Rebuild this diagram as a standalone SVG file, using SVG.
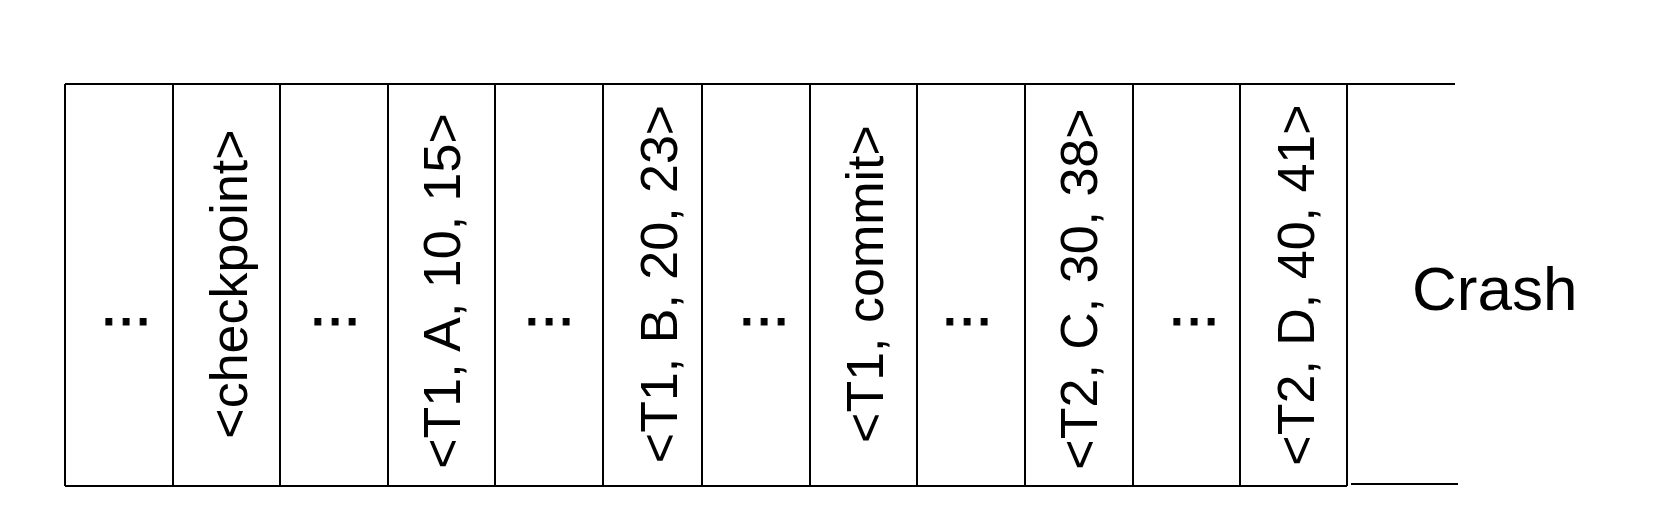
<svg xmlns="http://www.w3.org/2000/svg" width="1668" height="526" viewBox="0 0 1668 526">
<style>
.ln{stroke:#000;stroke-width:2;fill:none}
.v{font-family:"Liberation Sans",Arial,sans-serif;font-size:52px;fill:#000;text-anchor:middle}
.d{font-family:"Liberation Sans",Arial,sans-serif;font-size:62px;fill:#000;stroke:#000;stroke-width:1;text-anchor:middle}
.c{font-family:"Liberation Sans",Arial,sans-serif;font-size:62px;fill:#000}
</style>
<rect width="1668" height="526" fill="#fff"/>
<g id="frame">
<line class="ln" x1="65" y1="84" x2="1455" y2="84"/>
<line class="ln" x1="65" y1="486" x2="1347" y2="486"/>
<line class="ln" x1="1351" y1="484" x2="1458" y2="484"/>
<line class="ln" x1="65" y1="84" x2="65" y2="486"/>
<line class="ln" x1="173" y1="84" x2="173" y2="486"/>
<line class="ln" x1="280" y1="84" x2="280" y2="486"/>
<line class="ln" x1="388" y1="84" x2="388" y2="486"/>
<line class="ln" x1="495" y1="84" x2="495" y2="486"/>
<line class="ln" x1="603" y1="84" x2="603" y2="486"/>
<line class="ln" x1="702" y1="84" x2="702" y2="486"/>
<line class="ln" x1="810" y1="84" x2="810" y2="486"/>
<line class="ln" x1="917" y1="84" x2="917" y2="486"/>
<line class="ln" x1="1025" y1="84" x2="1025" y2="486"/>
<line class="ln" x1="1133" y1="84" x2="1133" y2="486"/>
<line class="ln" x1="1240" y1="84" x2="1240" y2="486"/>
<line class="ln" x1="1347" y1="84" x2="1347" y2="486"/>
</g>
<g id="cell1"><text class="d" x="126" y="325">...</text></g>
<g id="cell2"><text class="v" transform="translate(247,284) rotate(-90)">&lt;checkpoint&gt;</text></g>
<g id="cell3"><text class="d" x="335" y="325">...</text></g>
<g id="cell4"><text class="v" transform="translate(460,291) rotate(-90)">&lt;T1, A, 10, 15&gt;</text></g>
<g id="cell5"><text class="d" x="549" y="325">...</text></g>
<g id="cell6"><text class="v" transform="translate(677,284) rotate(-90)">&lt;T1, B, 20, 23&gt;</text></g>
<g id="cell7"><text class="d" x="764" y="325">...</text></g>
<g id="cell8"><text class="v" transform="translate(883,284) rotate(-90)">&lt;T1, commit&gt;</text></g>
<g id="cell9"><text class="d" x="967" y="325">...</text></g>
<g id="cell10"><text class="v" transform="translate(1097,289) rotate(-90)">&lt;T2, C, 30, 38&gt;</text></g>
<g id="cell11"><text class="d" x="1194" y="325">...</text></g>
<g id="cell12"><text class="v" transform="translate(1314,285) rotate(-90)">&lt;T2, D, 40, 41&gt;</text></g>
<g id="crash"><text class="c" x="1412" y="310">Crash</text></g>
<g id="connectors"></g>
</svg>
